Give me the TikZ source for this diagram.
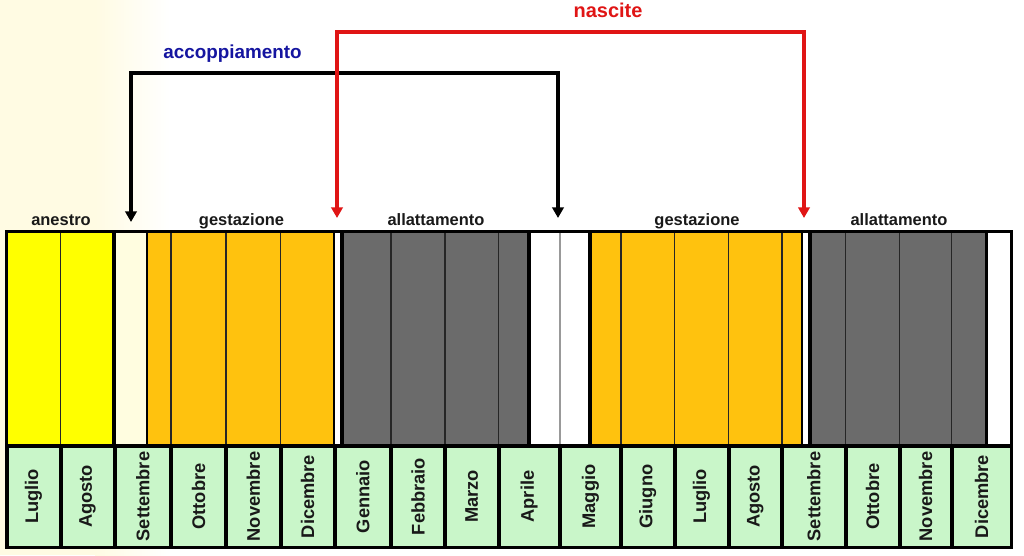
\documentclass[tikz,border=0pt]{standalone}
\usepackage{fontspec}
\setmainfont{Liberation Sans}
\usetikzlibrary{arrows.meta}
\definecolor{calYellowFill}{HTML}{FFFF00}
\definecolor{calCreamFill}{HTML}{FFFDE0}
\definecolor{calOrangeFill}{HTML}{FFC20E}
\definecolor{calGreyFill}{HTML}{6B6B6B}
\definecolor{calGreenFill}{HTML}{C9F6C9}
\definecolor{calBlueText}{HTML}{1515A0}
\definecolor{calRedLine}{HTML}{E01515}
\definecolor{calPaperTint}{HTML}{FFFBE3}

\tikzset{
  phaseLabel/.style={anchor=base, font=\fontsize{11.7}{14}\selectfont\bfseries, text=black!90},
  monthLabel/.style={rotate=90, font=\fontsize{13}{15}\selectfont\bfseries, text=black!90},
  cycleLabel/.style={anchor=base, font=\fontsize{13.4}{16}\selectfont\bfseries},
  cycleArrow/.style={>={Triangle[width=8pt,length=7.5pt]}, <->, line width=2.5pt},
}

\begin{document}
\begin{tikzpicture}[x=0.025cm, y=-0.025cm]

% --- PAGE ---
\useasboundingbox (0,0) rectangle (1024,555);
\fill[white] (0,0) rectangle (1024,555);
\fill[calPaperTint] (0,0) rectangle (95,555);
\shade[left color=calPaperTint, right color=white] (95,0) rectangle (170,555);

\def\yTop{230}
\def\yBot{549}
\def\barTop{233}
\def\barBot{444}

% --- FRAME ---
\fill[black] (5,\yTop) rectangle (1013,\yBot);

% --- PHASE BAR ---
\foreach \xa/\xb/\col in {8/112/calYellowFill, 116/146/calCreamFill,
    148/333/calOrangeFill, 335/340/white, 344/527/calGreyFill, 531/588/white,
    592/801/calOrangeFill, 803/808/white, 812/985/calGreyFill, 988/1010/white}
  \fill[\col] (\xa,\barTop) rectangle (\xb,\barBot);

% month rules inside the bar
\foreach \xv/\col in {60.5/black!85, 171/black!85, 226/black!85, 280.5/black!85,
    391/black!85, 445/black!85, 498.5/black!85, 560/black!40, 621/black!85,
    674.5/black!85, 728.5/black!85, 782/black!85, 845.5/black!85,
    899.5/black!85, 951.5/black!85}
  \draw[\col, line width=1pt] (\xv,\barTop) -- (\xv,\barBot);

% --- MONTHS ---
\foreach \xa/\xb/\name [count=\i] in {6.5/60.5/Luglio, 60.5/114.5/Agosto,
    114.5/171/Settembre, 171/226/Ottobre, 226/280.5/Novembre,
    280.5/334.5/Dicembre, 334.5/391/Gennaio, 391/445/Febbraio,
    445/498.5/Marzo, 498.5/560/Aprile, 560/621/Maggio, 621/674.5/Giugno,
    674.5/728.5/Luglio, 728.5/782/Agosto, 782/845.5/Settembre,
    845.5/899.5/Ottobre, 899.5/951.5/Novembre, 951.5/1011.5/Dicembre} {
  \fill[calGreenFill] (\xa+2,447.5) rectangle (\xb-2,545.5);
  \node[monthLabel] (month\i) at ({(\xa+\xb)/2},496.5) {\name};
}

% --- PHASE LABELS ---
\node[phaseLabel] (anestro)    at (61,225)    {anestro};
\node[phaseLabel] (gestA)      at (241.5,225) {gestazione};
\node[phaseLabel] (allatA)     at (436,225)   {allattamento};
\node[phaseLabel] (gestB)      at (697,225)   {gestazione};
\node[phaseLabel] (allatB)     at (899,225)   {allattamento};

% --- MATING ARROW ---
\coordinate (matingStart)  at (131,222);
\coordinate (matingCorner) at (131,73);
\coordinate (matingEnd)    at (558,218);
\draw[cycleArrow, black] (matingStart) -- (matingCorner) -| (matingEnd);
\node[cycleLabel, text=calBlueText] (matingLabel) at (232.5,58) {accoppiamento};

% --- BIRTH ARROW ---
\coordinate (birthStart)  at (337,218);
\coordinate (birthCorner) at (337,32);
\coordinate (birthEnd)    at (804,218);
\draw[cycleArrow, calRedLine, line width=2.2pt] (birthStart) -- (birthCorner) -| (birthEnd);
\node[cycleLabel, text=calRedLine, font=\fontsize{14.2}{17}\selectfont\bfseries]
  (birthLabel) at (608,17.5) {nascite};

\end{tikzpicture}
\end{document}
